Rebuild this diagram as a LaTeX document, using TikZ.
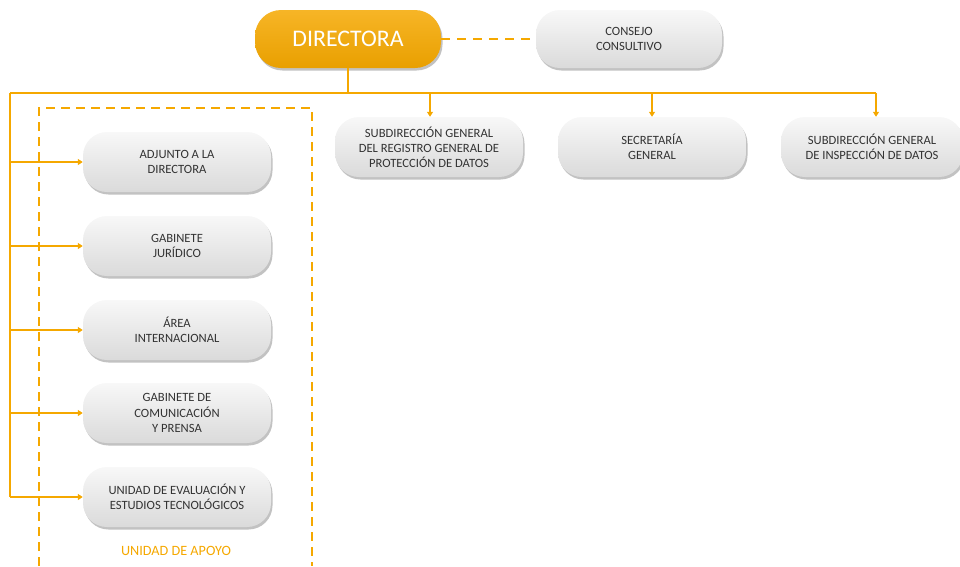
\documentclass[tikz,border=0pt]{standalone}
\usepackage{fontspec}
\setmainfont{Carlito}
\usetikzlibrary{arrows.meta,shadows}
\definecolor{org}{HTML}{F5A800}
\definecolor{boxfill}{HTML}{EDEDED}
\definecolor{txt}{HTML}{333333}
\tikzset{
  unit/.style={rounded corners=24pt, minimum width=188pt, minimum height=60pt,
    top color=white!60!boxfill, bottom color=boxfill!92!black, draw=none,
    drop shadow={shadow xshift=1.5pt, shadow yshift=-2.5pt, opacity=0.4, fill=black!60},
    align=center, font=\fontsize{12.6}{15.2}\selectfont, text=txt, inner sep=2pt},
  boss/.style={rounded corners=26pt, minimum width=186pt, minimum height=58pt,
    top color=org!85!white, bottom color=org!95!black, draw=none,
    drop shadow={shadow xshift=1.5pt, shadow yshift=-2.5pt, opacity=0.4, fill=black!60},
    font=\fontsize{23.8}{26}\selectfont, text=white},
  link/.style={draw=org, line width=1.2pt},
  arr/.style={link, -{Triangle[length=5pt,width=6pt]}},
  dashline/.style={draw=org, line width=1.5pt, dash pattern=on 9pt off 6pt}
}
\begin{document}
\begin{tikzpicture}[x=1pt,y=-1pt]
\useasboundingbox (0,0) rectangle (960,566);
% dashed support frame
\draw[dashline] (39,566) -- (39,108) -- (312,108) -- (312,566);
\node[text=org, font=\fontsize{14.2}{16}\selectfont] (apoyo) at (176,551) {UNIDAD DE APOYO};

\node[boss] (dir) at (348,39) {DIRECTORA};
\node[unit, minimum width=186pt, minimum height=58pt] (con) at (629,39) {CONSEJO\\CONSULTIVO};
\draw[dashline, dash pattern=on 9pt off 7pt] (dir.east) -- (con.west);

\node[unit] (s1) at (429,147) {SUBDIRECCIÓN GENERAL\\DEL REGISTRO GENERAL DE\\PROTECCIÓN DE DATOS};
\node[unit] (s2) at (652,147) {SECRETARÍA\\GENERAL};
\node[unit, minimum width=182pt] (s3) at (872,147) {SUBDIRECCIÓN GENERAL\\DE INSPECCIÓN DE DATOS};

\node[unit] (a1) at (177,162) {ADJUNTO A LA\\DIRECTORA};
\node[unit] (a2) at (177,246) {GABINETE\\JURÍDICO};
\node[unit] (a3) at (177,330) {ÁREA\\INTERNACIONAL};
\node[unit] (a4) at (177,413) {GABINETE DE\\COMUNICACIÓN\\Y PRENSA};
\node[unit] (a5) at (177,497) {UNIDAD DE EVALUACIÓN Y\\ESTUDIOS TECNOLÓGICOS};

\coordinate (bus) at (348,93);
\coordinate (left) at (10,93);
\draw[link] (dir.south) -- (bus);
\draw[link] (left) -- (876,93);
\draw[arr] (430,93) -- (s1.north -| 430,0);
\draw[arr] (652,93) -- (s2.north);
\draw[arr] (876,93) -- (s3.north -| 876,0);
\draw[link] (left) -- (10,497);
\foreach \n in {a1,a2,a3,a4,a5}{
  \draw[arr] (\n.west -| left) -- (\n.west);
}
\end{tikzpicture}
\end{document}
